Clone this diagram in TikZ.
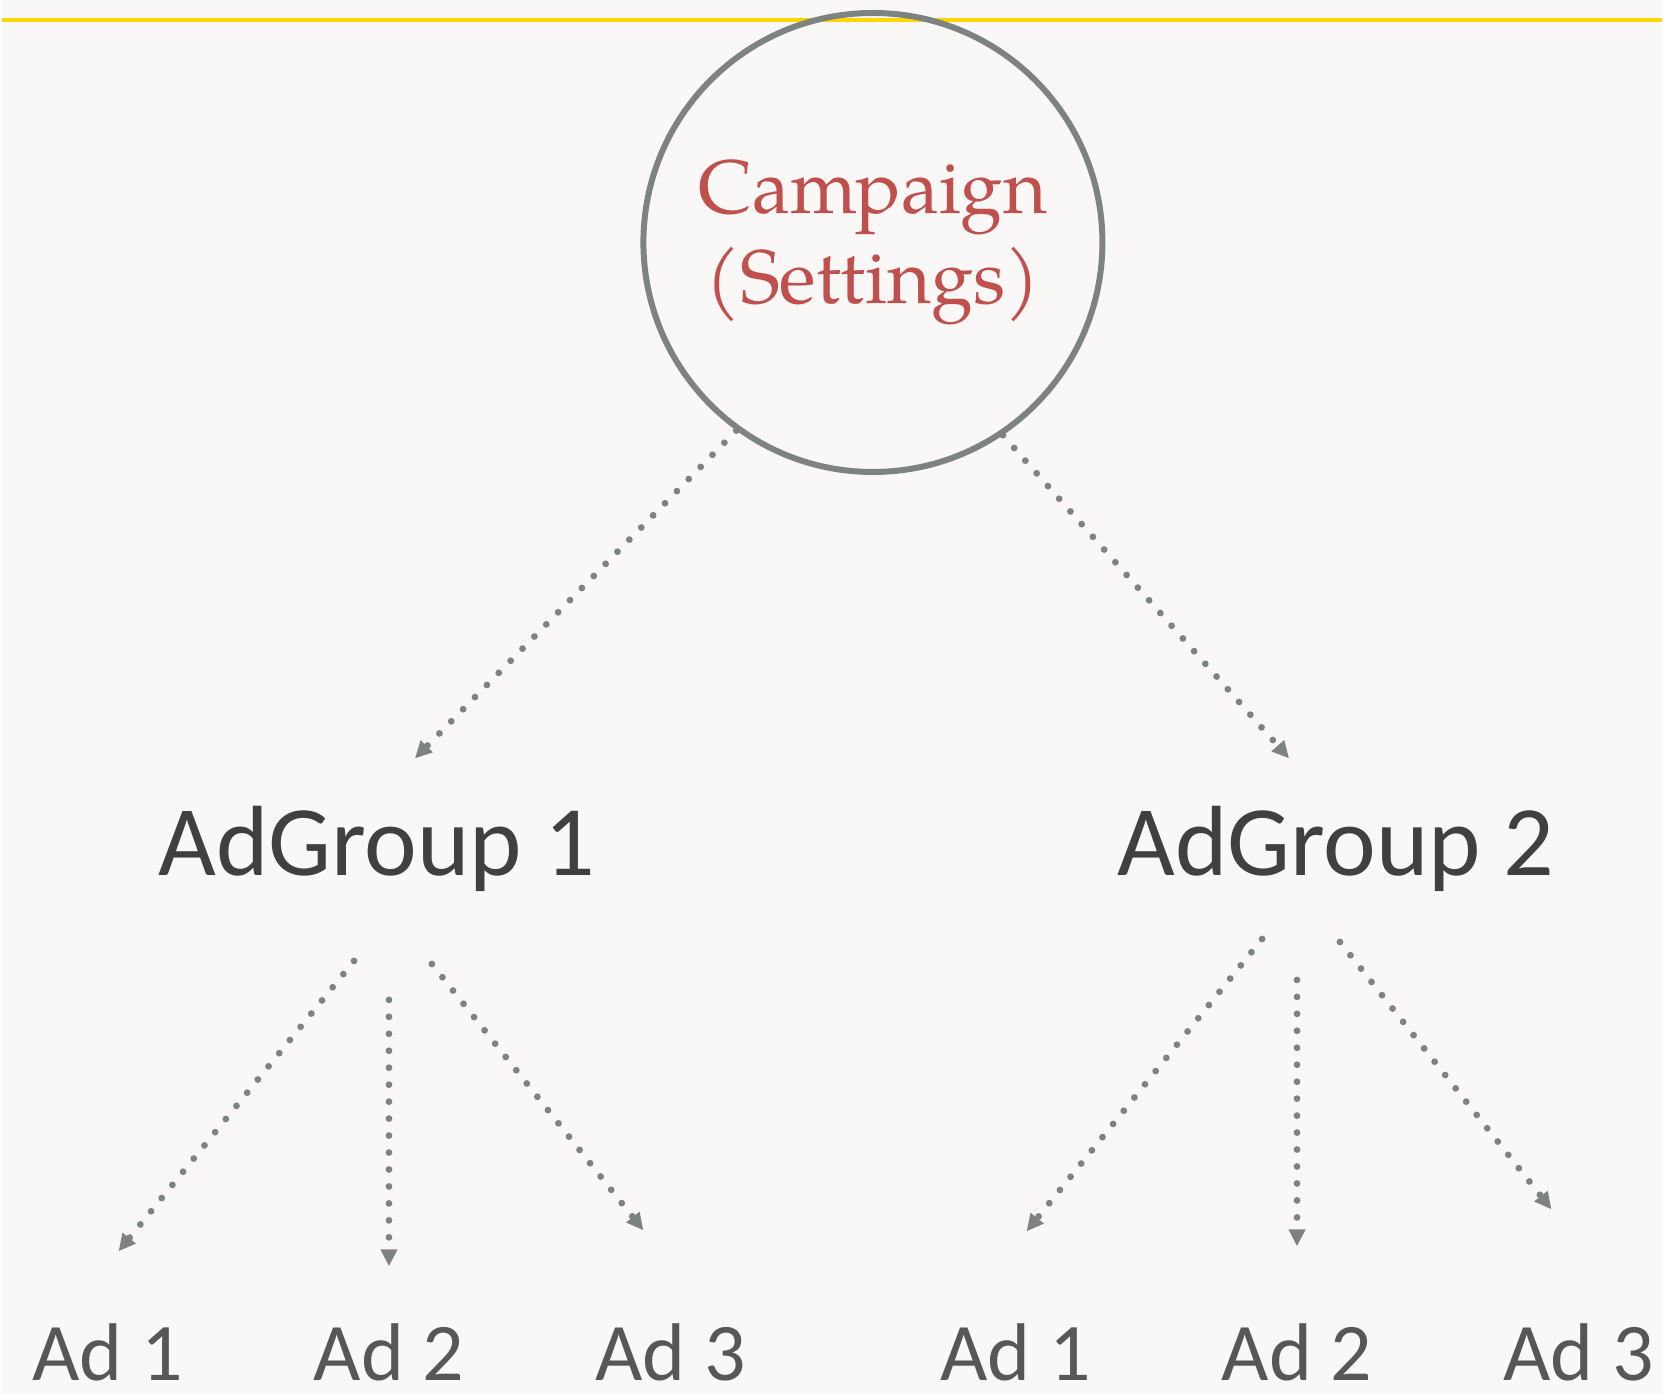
\documentclass[tikz,border=0pt]{standalone}
\usepackage{fontspec}
\setmainfont{TeX Gyre Pagella}
\newfontfamily\calib{Carlito}
\usepackage{xcolor}
\usetikzlibrary{arrows.meta,positioning}

\definecolor{paper}{RGB}{250,247,247}
\definecolor{rulegold}{RGB}{255,214,0}
\definecolor{ringgray}{RGB}{125,131,129}
\definecolor{campred}{RGB}{192,80,77}
\definecolor{groupgray}{RGB}{64,64,64}
\definecolor{adgray}{RGB}{87,87,87}

\begin{document}
\begin{tikzpicture}[x=0.5pt,y=0.5pt,
    link/.style={draw=ringgray, line width=3.4pt, line cap=round,
        dash pattern=on 0pt off 8.5pt, -{Triangle[length=8.5pt,width=8pt]}},
    group/.style={anchor=base, text=groupgray, font=\calib\fontsize{50}{60}\selectfont},
    ad/.style={anchor=base, inner sep=0pt, text=adgray, font=\calib\fontsize{41}{49}\selectfont}]
    \fill[paper] (0,0) rectangle (1664,-1397);
    \draw[rulegold, line width=1.8pt] (0,-20) -- (1664,-20);

    % Campaign at the top
    \node[circle, draw=ringgray, line width=3pt, minimum size=230pt, align=center,
          text=campred, font=\fontsize{38}{45}\selectfont] (camp) at (873,-243) {Campaign\\(Settings)};

    % ad groups
    \node[group] (grp1) at (376,-877) {AdGroup 1};
    \node[group] (grp2) at (1337,-877) {AdGroup 2};

    % ads
    \node[ad] (ad11) at (106,-1383) {Ad 1};
    \node[ad] (ad12) at (388,-1383) {Ad 2};
    \node[ad] (ad13) at (670,-1383) {Ad 3};
    \node[ad] (ad21) at (1016,-1383) {Ad 1};
    \node[ad] (ad22) at (1298,-1383) {Ad 2};
    \node[ad] (ad23) at (1580,-1383) {Ad 3};

    % Links
    \draw[link] (camp.234) -- ([shift={(38,117)}]grp1.base);
    \draw[link] (camp.304) -- ([shift={(-47,117)}]grp2.base);

    \draw[link] ([shift={(-23,-86)}]grp1.base) -- ([shift={(11,129)}]ad11.base);
    \draw[link] ([shift={(12,-125)}]grp1.base) -- ([shift={(0,114)}]ad12.base);
    \draw[link] ([shift={(55,-89)}]grp1.base) -- ([shift={(-27,150)}]ad13.base);

    \draw[link] ([shift={(-74,-64)}]grp2.base) -- ([shift={(11,149)}]ad21.base);
    \draw[link] ([shift={(-39,-105)}]grp2.base) -- ([shift={(0,134)}]ad22.base);
    \draw[link] ([shift={(4,-67)}]grp2.base) -- ([shift={(-27,171)}]ad23.base);
\end{tikzpicture}
\end{document}
